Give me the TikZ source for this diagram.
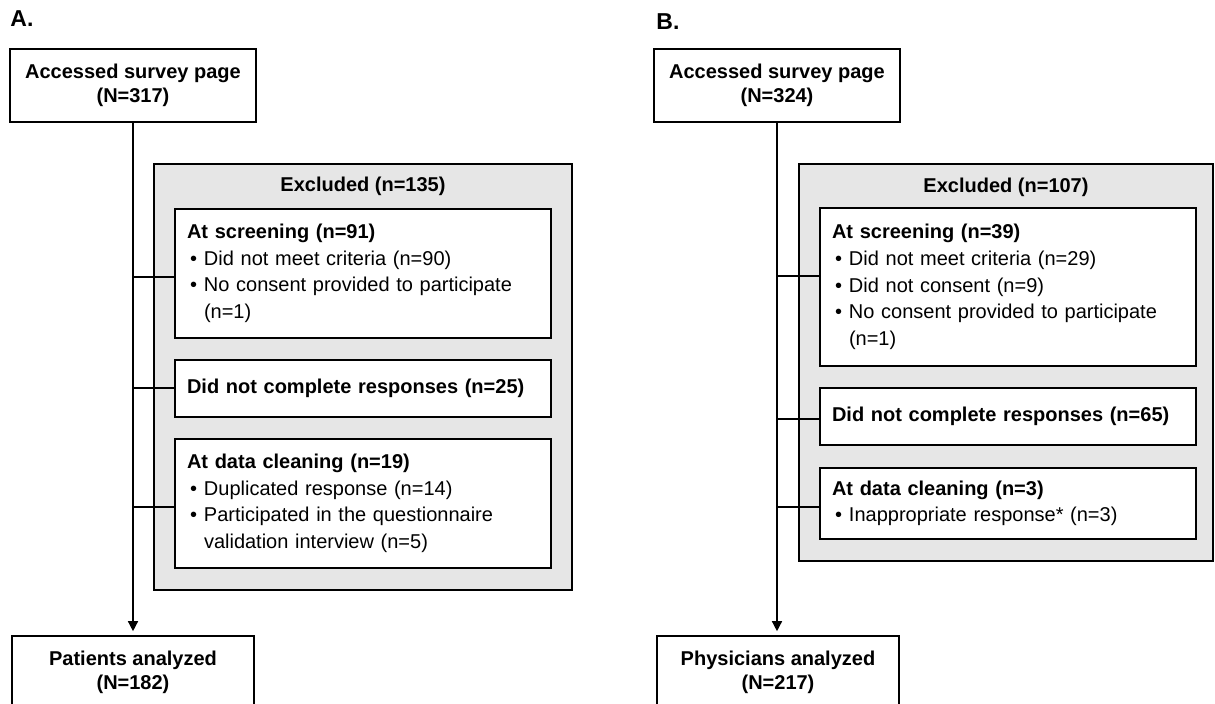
\documentclass[tikz,border=0pt]{standalone}
\usepackage{fontspec}
\setmainfont{Liberation Sans}
\usetikzlibrary{arrows.meta}
\definecolor{exgrey}{HTML}{E6E6E6}
\newcommand\bul[1]{\makebox[8.5pt][l]{\hspace{1.5pt}\textbullet}#1}
\newcommand\cont[1]{\hspace*{8.5pt}#1}
\tikzset{panel/.style={font=\bfseries\fontsize{11.5}{13}\selectfont,anchor=base west,inner sep=0},
         endbox/.style={draw,line width=0.8pt,fill=white,align=center,minimum height=36.5pt,
                        font=\bfseries\fontsize{10}{12}\selectfont},
         exbox/.style={draw,line width=1pt,fill=exgrey,inner sep=0},
         extitle/.style={font=\bfseries\fontsize{10}{12}\selectfont},
         reason/.style={draw,line width=0.8pt,fill=white,align=left,text width=176pt,inner xsep=6pt,
                        font=\fontsize{10}{13.3}\selectfont},
         spine/.style={line width=0.7pt,-{Triangle[length=5pt,width=5pt]},shorten >=2pt},
         link/.style={line width=0.7pt}
}
\begin{document}
\begin{tikzpicture}[x=0.5pt,y=-0.5pt]
  \useasboundingbox (0,0) rectangle (1215,704);
  % A. patients
  \node[panel] (labA) at (10,27) {A.};
  \node[endbox,minimum width=123pt] (topA) at (133,85.5) {Accessed survey page\\(N=317)};
  \node[exbox,minimum width=209pt,minimum height=213pt] (exA) at (363,377) {};
  \node[extitle] (exAttl) at (363,186) {Excluded (n=135)};
  \node[reason,minimum height=64.5pt] (scrA) at (363,273.5) {\textbf{At screening (n=91)}\\
     \bul{Did not meet criteria (n=90)}\\ \bul{No consent provided to participate}\\ \cont{(n=1)}};
  \node[reason,minimum height=28.5pt] (incA) at (363,388.5) {\textbf{Did not complete responses (n=25)}};
  \node[reason,minimum height=64.5pt] (clnA) at (363,503.5) {\textbf{At data cleaning (n=19)}\\
     \bul{Duplicated response (n=14)}\\ \bul{Participated in the questionnaire}\\ \cont{validation interview (n=5)}};
  \node[endbox,minimum width=121pt] (botA) at (133,672.5) {Patients analyzed\\(N=182)};
  \draw[spine] (topA) -- (botA);
  \draw[link] (topA.south |- 0,277) -- (scrA.west |- 0,277);
  \draw[link] (topA.south |- 0,388) -- (incA.west |- 0,388);
  \draw[link] (topA.south |- 0,507) -- (clnA.west |- 0,507);
  % B. physicians
  \node[panel] (labB) at (656,30) {B.};
  \node[endbox,minimum width=123pt] (topB) at (777,85.5) {Accessed survey page\\(N=324)};
  \node[exbox,minimum width=207pt,minimum height=198.5pt] (exB) at (1006,362.5) {};
  \node[extitle] (exBttl) at (1006,187) {Excluded (n=107)};
  \node[reason,minimum height=79pt] (scrB) at (1008,287) {\textbf{At screening (n=39)}\\
     \bul{Did not meet criteria (n=29)}\\ \bul{Did not consent (n=9)}\\
     \bul{No consent provided to participate}\\ \cont{(n=1)}};
  \node[reason,minimum height=28.5pt] (incB) at (1008,416.5) {\textbf{Did not complete responses (n=65)}};
  \node[reason,minimum height=35.5pt] (clnB) at (1008,503.5) {\textbf{At data cleaning (n=3)}\\
     \bul{Inappropriate response* (n=3)}};
  \node[endbox,minimum width=121pt] (botB) at (778,672.5) {Physicians analyzed\\(N=217)};
  \draw[spine] (topB.south) -- (topB.south |- botB.north);
  \draw[link] (topB.south |- 0,276) -- (scrB.west |- 0,276);
  \draw[link] (topB.south |- 0,419) -- (incB.west |- 0,419);
  \draw[link] (topB.south |- 0,507) -- (clnB.west |- 0,507);
\end{tikzpicture}
\end{document}
